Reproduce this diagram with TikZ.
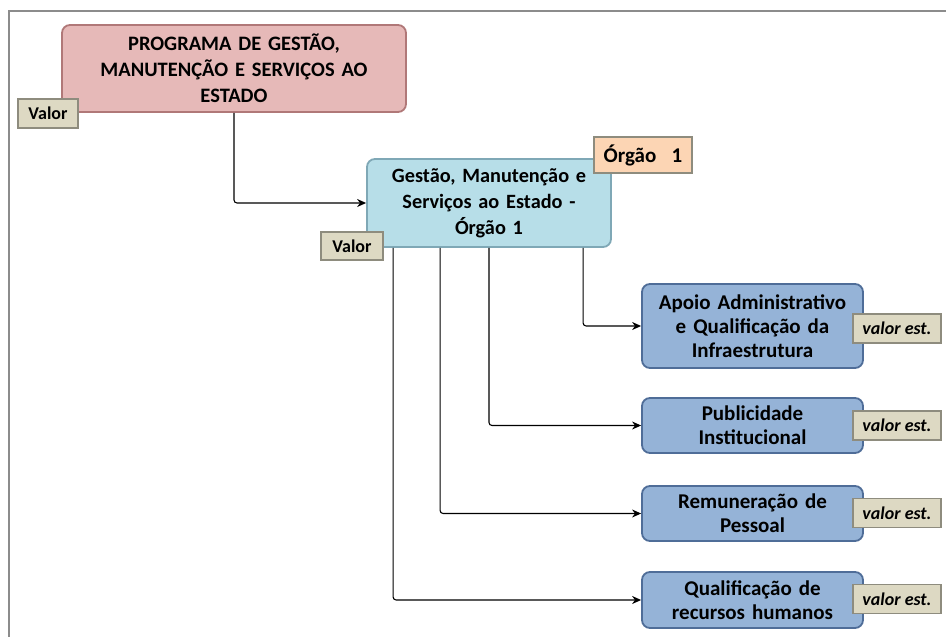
\documentclass[tikz,border=0pt]{standalone}
\usepackage{fontspec}
\setmainfont{Carlito}
\usetikzlibrary{arrows.meta,calc}
\definecolor{pinkfill}{HTML}{E6B9B8}
\definecolor{pinkdraw}{HTML}{B07878}
\definecolor{cyanfill}{HTML}{B7DEE8}
\definecolor{cyandraw}{HTML}{7FA8B6}
\definecolor{bluefill}{HTML}{95B3D7}
\definecolor{bluedraw}{HTML}{4F6D98}
\definecolor{tagfill}{HTML}{DDD9C3}
\definecolor{tagdraw}{HTML}{8E8C7E}
\definecolor{orgfill}{HTML}{FCD5B4}
\definecolor{framecol}{HTML}{8C8C8C}
\tikzset{
  x=1pt, y=-1pt,
  mainbox/.style={draw=pinkdraw, fill=pinkfill, line width=1.8pt, rounded corners=8pt,
    minimum width=344pt, minimum height=87pt, text width=330pt, align=center,
    font=\fontsize{20.5}{26}\selectfont\bfseries, inner sep=0pt},
  midbox/.style={draw=cyandraw, fill=cyanfill, line width=1.8pt, rounded corners=8pt,
    minimum width=244pt, minimum height=88pt, text width=236pt, align=center,
    font=\fontsize{20.3}{26}\selectfont\bfseries, inner sep=0pt},
  leafbox/.style={draw=bluedraw, fill=bluefill, line width=1.8pt, rounded corners=8pt,
    minimum width=221pt, text width=215pt, align=center,
    font=\fontsize{21}{24}\selectfont\bfseries, inner sep=0pt},
  tagbox/.style={draw=tagdraw, fill=tagfill, line width=1.2pt,
    minimum width=60pt, minimum height=29pt, inner sep=0pt,
    font=\fontsize{18}{20}\selectfont\bfseries},
  esttag/.style={tagbox, minimum width=88pt, font=\fontsize{18}{20}\selectfont\bfseries\itshape},
  orgtag/.style={draw=tagdraw, fill=orgfill, line width=1.2pt,
    minimum width=98pt, minimum height=36pt, inner sep=0pt,
    font=\fontsize{21}{24}\selectfont\bfseries},
  conn/.style={draw=black, line width=1.1pt, rounded corners=3pt,
    -{Stealth[length=9pt,width=8pt]}}
}
\begin{document}
\begin{tikzpicture}
\useasboundingbox (0,0) rectangle (946,637);
\draw[framecol, line width=2pt] (8.5,637) -- (8.5,10.5) -- (946,10.5);

\node[mainbox] (prog) at (234,68.5) {PROGRAMA DE GESTÃO,\\ MANUTENÇÃO E SERVIÇOS AO\\ ESTADO};
\node[midbox] (org) at (489,203) {Gestão, Manutenção e\\ Serviços ao Estado -\\ Órgão 1};
\node[leafbox, minimum height=84pt] (apoio) at (752.5,326) {Apoio Administrativo\\ e Qualificação da\\ Infraestrutura};
\node[leafbox, minimum height=55pt] (publ) at (752.5,425.5) {Publicidade\\ Institucional};
\node[leafbox, minimum height=55pt] (remu) at (752.5,513.5) {Remuneração de\\ Pessoal};
\node[leafbox, minimum height=56pt] (qual) at (752.5,600) {Qualificação de\\ recursos humanos};

\draw[conn] (prog.south) |- (org.west);
\draw[conn] ([xshift=217pt]org.south west) |- (apoio.west);
\draw[conn] (org.south) |- (publ.west);
\draw[conn] ([xshift=74pt]org.south west) |- (remu.west);
\draw[conn] ([xshift=27pt]org.south west) |- (qual.west);

\node[tagbox] (v1) at (48,113.5) {Valor};
\node[tagbox, minimum width=62pt, minimum height=28pt] (v2) at (352,246) {Valor};
\node[orgtag] (o1) at (643,155) {Órgão\hspace{0.5em} 1};
\node[esttag] (e1) at (897,328.5) {valor est.};
\node[esttag] (e2) at (897,425.5) {valor est.};
\node[esttag] (e3) at (897,513) {valor est.};
\node[esttag] (e4) at (897,599) {valor est.};
\end{tikzpicture}
\end{document}
